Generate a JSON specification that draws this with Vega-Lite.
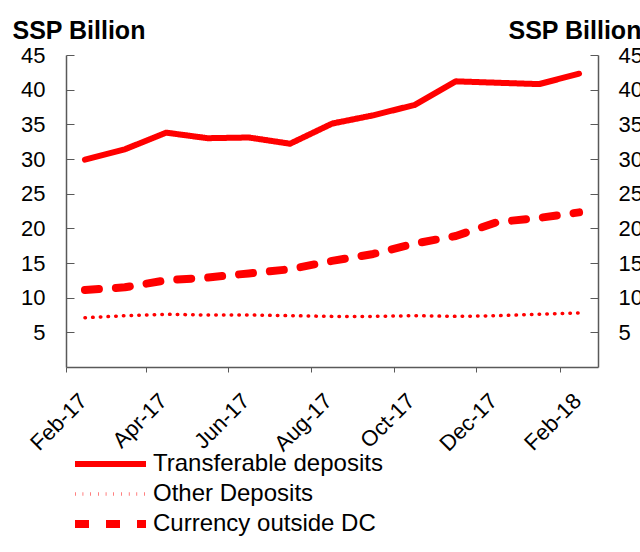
{
  "$schema": "https://vega.github.io/schema/vega-lite/v6.json",
  "width": 532,
  "height": 312,
  "autosize": "none",
  "padding": {"left": 66, "top": 55, "right": 42, "bottom": 185},
  "background": "white",
  "config": {"font": "Liberation Sans", "view": {"stroke": null}},
  "data": {
    "values": [
      {"month": "2017-02-01", "series": "Transferable deposits", "value": 29.9},
      {"month": "2017-03-01", "series": "Transferable deposits", "value": 31.4},
      {"month": "2017-04-01", "series": "Transferable deposits", "value": 33.8},
      {"month": "2017-05-01", "series": "Transferable deposits", "value": 33.0},
      {"month": "2017-06-01", "series": "Transferable deposits", "value": 33.1},
      {"month": "2017-07-01", "series": "Transferable deposits", "value": 32.2},
      {"month": "2017-08-01", "series": "Transferable deposits", "value": 35.1},
      {"month": "2017-09-01", "series": "Transferable deposits", "value": 36.3},
      {"month": "2017-10-01", "series": "Transferable deposits", "value": 37.8},
      {"month": "2017-11-01", "series": "Transferable deposits", "value": 41.2},
      {"month": "2017-12-01", "series": "Transferable deposits", "value": 41.0},
      {"month": "2018-01-01", "series": "Transferable deposits", "value": 40.8},
      {"month": "2018-02-01", "series": "Transferable deposits", "value": 42.3},
      {"month": "2017-02-01", "series": "Other Deposits", "value": 7.1},
      {"month": "2017-03-01", "series": "Other Deposits", "value": 7.4},
      {"month": "2017-04-01", "series": "Other Deposits", "value": 7.6},
      {"month": "2017-05-01", "series": "Other Deposits", "value": 7.5},
      {"month": "2017-06-01", "series": "Other Deposits", "value": 7.5},
      {"month": "2017-07-01", "series": "Other Deposits", "value": 7.4},
      {"month": "2017-08-01", "series": "Other Deposits", "value": 7.3},
      {"month": "2017-09-01", "series": "Other Deposits", "value": 7.3},
      {"month": "2017-10-01", "series": "Other Deposits", "value": 7.4},
      {"month": "2017-11-01", "series": "Other Deposits", "value": 7.3},
      {"month": "2017-12-01", "series": "Other Deposits", "value": 7.4},
      {"month": "2018-01-01", "series": "Other Deposits", "value": 7.6},
      {"month": "2018-02-01", "series": "Other Deposits", "value": 7.8},
      {"month": "2017-02-01", "series": "Currency outside DC", "value": 11.1},
      {"month": "2017-03-01", "series": "Currency outside DC", "value": 11.5},
      {"month": "2017-04-01", "series": "Currency outside DC", "value": 12.5},
      {"month": "2017-05-01", "series": "Currency outside DC", "value": 12.9},
      {"month": "2017-06-01", "series": "Currency outside DC", "value": 13.5},
      {"month": "2017-07-01", "series": "Currency outside DC", "value": 14.1},
      {"month": "2017-08-01", "series": "Currency outside DC", "value": 15.3},
      {"month": "2017-09-01", "series": "Currency outside DC", "value": 16.3},
      {"month": "2017-10-01", "series": "Currency outside DC", "value": 17.8},
      {"month": "2017-11-01", "series": "Currency outside DC", "value": 18.9},
      {"month": "2017-12-01", "series": "Currency outside DC", "value": 20.9},
      {"month": "2018-01-01", "series": "Currency outside DC", "value": 21.5},
      {"month": "2018-02-01", "series": "Currency outside DC", "value": 22.3}
    ]
  },
  "layer": [
    {
      "mark": {"type": "line", "strokeCap": "round", "strokeJoin": "round"},
      "encoding": {
        "x": {
          "field": "month",
          "timeUnit": "utcyearmonth",
          "type": "temporal",
          "bandPosition": 0.5,
          "scale": {"domain": [{"year": 2017, "month": 2, "date": 1, "utc": true}, {"year": 2018, "month": 3, "date": 1, "utc": true}]},
          "axis": {
            "values": [
              {"year": 2017, "month": 2, "date": 1, "utc": true},
              {"year": 2017, "month": 4, "date": 1, "utc": true},
              {"year": 2017, "month": 6, "date": 1, "utc": true},
              {"year": 2017, "month": 8, "date": 1, "utc": true},
              {"year": 2017, "month": 10, "date": 1, "utc": true},
              {"year": 2017, "month": 12, "date": 1, "utc": true},
              {"year": 2018, "month": 2, "date": 1, "utc": true}
            ],
            "format": "%b-%y",
            "labelAngle": -45,
            "labelAlign": "right",
            "labelBaseline": "middle",
            "labelFontSize": 22,
            "labelPadding": 25,
            "labelOffset": 17,
            "labelColor": "black",
            "labelFlush": false,
            "labelOverlap": false,
            "tickSize": 5,
            "tickColor": "#595959",
            "domainColor": "#595959",
            "domainWidth": 1.5,
            "grid": false,
            "title": null
          }
        },
        "y": {
          "field": "value",
          "type": "quantitative",
          "scale": {"domain": [0, 45], "nice": false},
          "axis": {
            "orient": "left",
            "values": [5, 10, 15, 20, 25, 30, 35, 40, 45],
            "tickSize": -8,
            "labelPadding": 29,
            "labelFontSize": 22,
            "labelColor": "black",
            "tickColor": "#595959",
            "domainColor": "#595959",
            "domainWidth": 1.5,
            "grid": false,
            "title": "SSP Billion",
            "titleAngle": 0,
            "titleAlign": "left",
            "titleBaseline": "alphabetic",
            "titleX": -54,
            "titleY": -17,
            "titleFontSize": 25,
            "titleFontWeight": "bold",
            "titleColor": "black"
          }
        },
        "color": {
          "field": "series",
          "type": "nominal",
          "scale": {"domain": ["Transferable deposits", "Other Deposits", "Currency outside DC"], "range": ["#FF0000", "#FF0000", "#FF0000"]},
          "legend": {
            "orient": "none",
            "legendX": 5,
            "legendY": 398,
            "title": null,
            "symbolType": "stroke",
            "symbolSize": 5041,
            "labelFontSize": 24,
            "labelColor": "black",
            "labelOffset": 3,
            "clipHeight": 22,
            "rowPadding": 6,
            "padding": 0,
            "labelLimit": 400
          }
        },
        "strokeDash": {
          "field": "series",
          "type": "nominal",
          "scale": {"domain": ["Transferable deposits", "Other Deposits", "Currency outside DC"], "range": [[1, 0], [0.5, 7.2], [14, 17]]},
          "legend": {
            "orient": "none",
            "legendX": 5,
            "legendY": 398,
            "title": null,
            "symbolType": "stroke",
            "symbolSize": 5041,
            "labelFontSize": 24,
            "labelColor": "black",
            "labelOffset": 3,
            "clipHeight": 22,
            "rowPadding": 6,
            "padding": 0,
            "labelLimit": 400
          }
        },
        "strokeWidth": {
          "field": "series",
          "type": "nominal",
          "scale": {"type": "ordinal", "domain": ["Transferable deposits", "Other Deposits", "Currency outside DC"], "range": [6, 3.5, 8]},
          "legend": {
            "orient": "none",
            "legendX": 5,
            "legendY": 398,
            "title": null,
            "symbolType": "stroke",
            "symbolSize": 5041,
            "labelFontSize": 24,
            "labelColor": "black",
            "labelOffset": 3,
            "clipHeight": 22,
            "rowPadding": 6,
            "padding": 0,
            "labelLimit": 400
          }
        }
      }
    },
    {
      "mark": {"type": "line", "strokeOpacity": 0},
      "encoding": {
        "x": {
          "field": "month",
          "timeUnit": "utcyearmonth",
          "type": "temporal",
          "bandPosition": 0.5
        },
        "y": {
          "field": "value",
          "type": "quantitative",
          "scale": {"domain": [0, 45], "nice": false},
          "axis": {
            "orient": "right",
            "values": [5, 10, 15, 20, 25, 30, 35, 40, 45],
            "tickSize": -8,
            "labelPadding": 28,
            "labelFontSize": 22,
            "labelColor": "black",
            "tickColor": "#595959",
            "domainColor": "#595959",
            "domainWidth": 1.5,
            "grid": false,
            "title": "SSP Billion",
            "titleAngle": 0,
            "titleAlign": "left",
            "titleBaseline": "alphabetic",
            "titleX": -90,
            "titleY": -17,
            "titleFontSize": 25,
            "titleFontWeight": "bold",
            "titleColor": "black"
          }
        },
        "detail": {"field": "series", "type": "nominal"}
      }
    }
  ],
  "resolve": {"scale": {"y": "independent"}, "axis": {"y": "independent"}}
}
